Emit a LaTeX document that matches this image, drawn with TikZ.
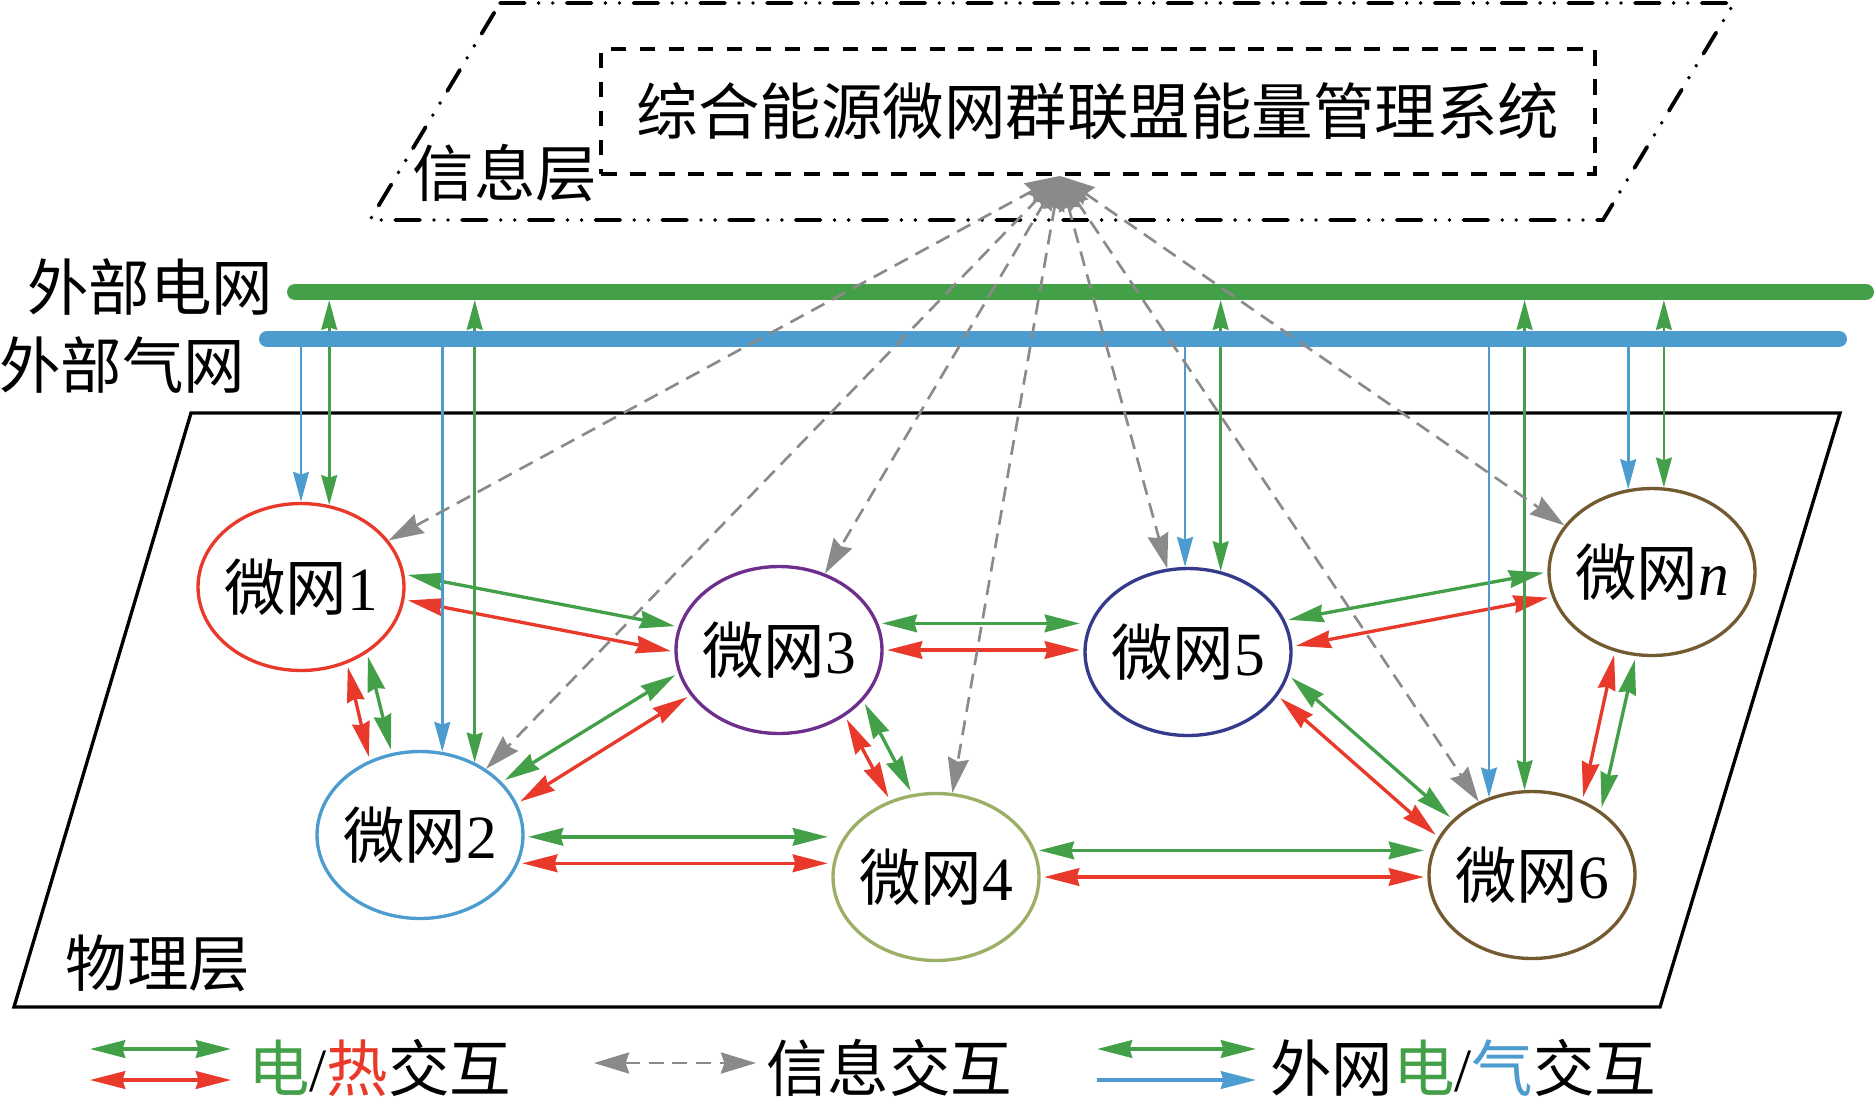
\documentclass[tikz,border=0pt]{standalone}
\usepackage{fontspec}
\setmainfont{Liberation Serif}
\newfontfamily\cjk{Noto Sans CJK SC}
\usepackage{tikz}
\usetikzlibrary{arrows.meta, shapes.geometric}
\definecolor{cgreen}{RGB}{67,160,73}
\definecolor{cblue}{RGB}{76,156,208}
\definecolor{cred}{RGB}{232,57,42}
\definecolor{cgray}{RGB}{138,138,138}
\definecolor{cpurple}{RGB}{110,46,140}
\definecolor{colive}{RGB}{155,175,102}
\definecolor{cnavy}{RGB}{54,58,140}
\definecolor{cbrown}{RGB}{115,90,48}
\tikzset{>={Stealth[length=20pt,width=10pt,inset=1.5pt]}}
\tikzset{
  mg/.style={ellipse, draw=#1, line width=1.9pt, minimum width=4.12cm, minimum height=3.34cm, inner xsep=-0.3cm, inner ysep=0pt},
  link/.style={<->, draw=#1, line width=1.9pt, shorten <=2pt, shorten >=2pt},
  ext/.style={draw=#1, line width=1.5pt, >={Stealth[length=17pt,width=9pt,inset=1.5pt]}},
  info/.style={<->, cgray, line width=1.5pt, dash pattern=on 8.5pt off 5pt, >={Stealth[length=20pt,width=12pt,inset=2pt]}},
  bar/.style={draw=#1, line width=0.32cm, line cap=round},
  lgd/.style={anchor=west, inner sep=0pt}
}

\begin{document}
\begin{tikzpicture}[x=0.02cm, y=-0.02cm, font=\fontsize{35}{42}\selectfont]
  \useasboundingbox (0,0) rectangle (1876,1110);
  \draw[line width=1.9pt] (191,413)--(1840,413)--(1660,1007)--(14,1007)--cycle;
  \draw[line width=2.2pt, line cap=round, dash pattern=on 14pt off 8pt on 0pt off 8pt on 0pt off 8pt]
    (500,3)--(1734,3)--(1603,220)--(370,220)--cycle;
  \node[draw, line width=2.2pt, dash pattern=on 9pt off 7.5pt, minimum width=19.88cm, minimum height=2.5cm]
    (sys) at (1098,111.5) {\cjk 综合能源微网群联盟能量管理系统};
  \node (info) at (505,173) {\cjk 信息层};
  \node (phys) at (158,963) {\cjk 物理层};
  \node (gridlbl) at (150,287) {\cjk 外部电网};
  \node (gaslbl) at (122,365) {\cjk 外部气网};

  \node[mg=cred] (m1) at (301,587) {{\cjk 微网}1};
  \node[mg=cblue] (m2) at (420,835) {{\cjk 微网}2};
  \node[mg=cpurple] (m3) at (779,650) {{\cjk 微网}3};
  \node[mg=colive] (m4) at (936,877) {{\cjk 微网}4};
  \node[mg=cnavy] (m5) at (1188,652) {{\cjk 微网}5};
  \node[mg=cbrown] (m6) at (1532,875) {{\cjk 微网}6};
  \node[mg=cbrown] (mn) at (1652,572) {{\cjk 微网}\textit{n}};

  \draw[link=cgreen] (m1.7)--(m3.167);
  \draw[link=cred] (m1.-7)--(m3.181);
  \draw[link=cred] (m1.-59)--(m2.124);
  \draw[link=cgreen] (m1.-45)--(m2.109);
  \draw[link=cgreen] (m2.33)--(m3.-167);
  \draw[link=cred] (m2.18)--(m3.-153);
  \draw[link=cred] (m3.-45)--(m4.121);
  \draw[link=cgreen] (m3.-31)--(m4.106);
  \draw[link=cgreen] (m5.18)--(mn.180);
  \draw[link=cred] (m5.3)--(mn.194);
  \draw[link=cgreen] (m5.-13)--(m6.145);
  \draw[link=cred] (m5.-26)--(m6.158);
  \draw[link=cred] (mn.-115)--(m6.56);
  \draw[link=cgreen] (mn.-101)--(m6.43);
  \draw[link=cgreen] (m2.-1)--(m2.-1 -| m4.west);
  \draw[link=cred] (m2.-16)--(m2.-16 -| m4.west);
  \draw[link=cgreen] (m3.15)--(m3.15 -| m5.west);
  \draw[link=cred] (m3.0)--(m3.0 -| m5.west);
  \draw[link=cgreen] (m4.15)--(m4.15 -| m6.west);
  \draw[link=cred] (m4.0)--(m4.0 -| m6.west);

  \coordinate (gridL) at (295,292);
  \coordinate (gridR) at (1866,292);
  \coordinate (gasL) at (267,339);
  \coordinate (gasR) at (1839,339);
  \foreach \m/\g/\e in {m1/90/71, m2/75/53, m5/92/68, m6/119/95, mn/106/82}{
    \draw[ext=cblue, ->] (\m.\g |- gasL)--(\m.\g);
    \draw[ext=cgreen, <->, shorten <=0.16cm] (\m.\e |- gridL)--(\m.\e);
  }
  \draw[bar=cgreen] (gridL)--(gridR);
  \draw[bar=cblue] (gasL)--(gasR);

  \coordinate (hub) at ([xshift=-0.76cm]sys.south);
  \foreach \m/\a in {m1/28, m2/45, m3/59, m4/79, m5/104, m6/126, mn/152}
    \draw[info] (hub)--(\m.\a);

  \node[lgd] (lgA) at (248,1068) {{\cjk\color{cgreen}电}/{\cjk\color{cred}热}{\cjk 交互}};
  \node[lgd] (lgB) at (766,1068) {\cjk 信息交互};
  \node[lgd] (lgC) at (1270,1068) {{\cjk 外网}{\cjk\color{cgreen}电}/{\cjk\color{cblue}气}{\cjk 交互}};
  \draw[link=cgreen, shorten <=0pt, shorten >=0pt] ([shift={(-158,-19)}]lgA.west)--++(141,0);
  \draw[link=cred, shorten <=0pt, shorten >=0pt] ([shift={(-158,12)}]lgA.west)--++(141,0);
  \draw[info] ([shift={(-172,-5)}]lgB.west)--++(162,0);
  \draw[link=cgreen, shorten <=0pt, shorten >=0pt] ([shift={(-173,-19)}]lgC.west)--++(159,0);
  \draw[link=cblue, shorten <=0pt, shorten >=0pt, ->] ([shift={(-173,12)}]lgC.west)--++(159,0);
\end{tikzpicture}
\end{document}
